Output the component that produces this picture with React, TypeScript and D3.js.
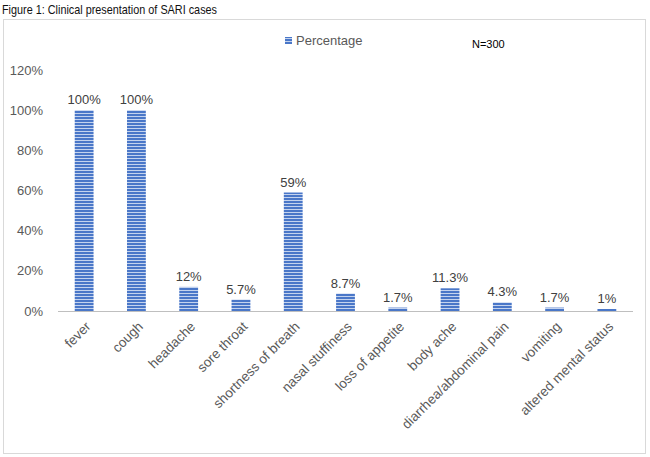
import React from 'react';
import * as d3 from 'd3';

const categories = [
  'fever', 'cough', 'headache', 'sore throat', 'shortness of breath',
  'nasal stuffiness', 'loss of appetite', 'body ache',
  'diarrhea/abdominal pain', 'vomiting', 'altered mental status',
];
const values = [100, 100, 12, 5.7, 59, 8.7, 1.7, 11.3, 4.3, 1.7, 1];
const valueLabels = ['100%', '100%', '12%', '5.7%', '59%', '8.7%', '1.7%', '11.3%', '4.3%', '1.7%', '1%'];
const yTicks = [0, 20, 40, 60, 80, 100, 120];

const W = 650;
const H = 457;
const FONT = '"Liberation Sans", Arial, sans-serif';

export default function App() {
  const x = d3.scaleBand<string>()
    .domain(categories)
    .range([58, 633])
    .paddingInner(0.64)
    .paddingOuter(0.32);

  const y = d3.scaleLinear().domain([0, 120]).range([311, 70]);

  return (
    <svg width={W} height={H} style={{ position: 'absolute', left: 0, top: 0, background: '#fff' }}>
      <defs>
        <pattern id="stripes" width="4" height="3" patternUnits="userSpaceOnUse">
          <rect width="4" height="3" fill="#4a77c8" />
          <rect y="2" width="4" height="1" fill="#c4d3ee" />
        </pattern>
      </defs>

      <text x={2} y={14} fontFamily={FONT} fontSize={13} fill="#111"
        textLength={215} lengthAdjust="spacingAndGlyphs">
        Figure 1: Clinical presentation of SARI cases
      </text>

      <rect x={3.5} y={19.5} width={642} height={434} fill="none" stroke="#d9d9d9" strokeWidth={1} />

      {/* legend */}
      <rect x={285} y={37} width={7} height={7} fill="url(#stripes)" />
      <text x={296} y={45} fontFamily={FONT} fontSize={13} fill="#595959">Percentage</text>
      <text x={472} y={48} fontFamily={FONT} fontSize={11} fill="#000">N=300</text>

      {/* y ticks */}
      {yTicks.map(t => (
        <text key={t} x={43} y={y(t)} dy="0.35em" textAnchor="end"
          fontFamily={FONT} fontSize={13} fill="#595959">{t}%</text>
      ))}

      {/* bars */}
      {categories.map((c, i) => (
        <rect key={c} x={x(c)} y={y(values[i])} width={x.bandwidth()}
          height={y(0) - y(values[i])} fill="url(#stripes)" />
      ))}

      {/* axis line */}
      <line x1={58} x2={633} y1={311.5} y2={311.5} stroke="#bfbfbf" strokeWidth={1} />

      {/* value labels */}
      {categories.map((c, i) => (
        <text key={c} x={(x(c) as number) + x.bandwidth() / 2} y={y(values[i]) - 6}
          textAnchor="middle" fontFamily={FONT} fontSize={13} fill="#404040">
          {valueLabels[i]}
        </text>
      ))}

      {/* category labels */}
      {categories.map(c => {
        const cx = (x(c) as number) + x.bandwidth() / 2 + 4;
        const cy = 324;
        return (
          <text key={c} transform={`translate(${cx},${cy}) rotate(-45)`} textAnchor="end"
            dy="0.35em" fontFamily={FONT} fontSize={13.5} fill="#595959">
            {c}
          </text>
        );
      })}
    </svg>
  );
}
